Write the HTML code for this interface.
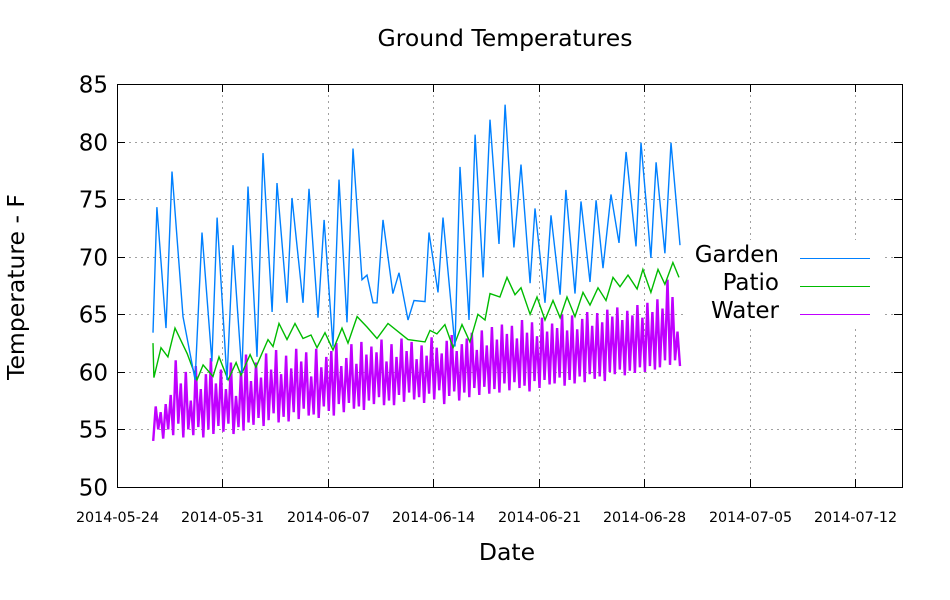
<!DOCTYPE html>
<html><head><meta charset="utf-8"><style>
html,body{margin:0;padding:0;background:#fff;}
svg{display:block;font-family:"DejaVu Sans","Liberation Sans",sans-serif;}
</style></head><body>
<svg id="chart" width="950" height="600" viewBox="0 0 950 600">
<rect width="950" height="600" fill="#fff"/>
<text x="505" y="46" text-anchor="middle" font-size="23.5">Ground Temperatures</text>
<text x="507" y="560" text-anchor="middle" font-size="23.5">Date</text>
<text transform="translate(24,287) rotate(-90)" text-anchor="middle" font-size="23.5">Temperature - F</text>
<g id="grid"></g><g id="ticks"></g><g id="series"></g>
<rect x="117.5" y="84.5" width="785" height="403" fill="none" stroke="#000" stroke-width="1"/>
<g>
<rect x="684" y="240" width="200" height="88" fill="#fff"/>
<text x="779" y="262" text-anchor="end" font-size="23">Garden</text>
<line x1="800" y1="258.5" x2="870" y2="258.5" stroke="#0080ff"/>
<text x="779" y="290" text-anchor="end" font-size="23">Patio</text>
<line x1="800" y1="286.5" x2="870" y2="286.5" stroke="#00bb00"/>
<text x="779" y="318" text-anchor="end" font-size="23">Water</text>
<line x1="800" y1="314.5" x2="870" y2="314.5" stroke="#c000ff"/>
</g>
</svg>
<script>
// days since 2014-05-24
const yTicks=[50,55,60,65,70,75,80,85];
const xTickDays=[0,7,14,21,28,35,42,49];
const xTickLabels=["2014-05-24","2014-05-31","2014-06-07","2014-06-14","2014-06-21","2014-06-28","2014-07-05","2014-07-12"];
const gardenDays=[2.39,2.65,3.25,3.65,4.38,5.18,5.64,6.30,6.64,7.30,7.70,8.29,8.69,9.29,9.69,10.29,10.62,11.28,11.61,12.34,12.74,13.34,13.74,14.33,14.73,15.26,15.66,16.26,16.59,16.99,17.25,17.65,18.31,18.71,19.31,19.71,20.44,20.70,21.30,21.63,22.43,22.76,23.36,23.76,24.29,24.75,25.35,25.75,26.34,26.81,27.41,27.74,28.40,28.80,29.40,29.79,30.39,30.79,31.39,31.79,32.25,32.78,33.31,33.78,34.44,34.77,35.43,35.77,36.36,36.76,37.36];
const gardenTemps=[63.4,74.3,63.8,77.4,64.8,59.3,72.1,60.9,73.4,59.3,71.0,59.9,76.1,61.3,79.0,65.2,76.4,66.0,75.1,66.0,75.9,64.7,73.2,62.2,76.7,64.3,79.4,68.0,68.4,66.0,66.0,73.2,66.8,68.6,64.5,66.2,66.1,72.1,66.9,73.4,62.2,77.8,64.5,80.6,68.2,81.9,71.1,83.2,70.8,78.0,67.7,74.2,66.0,73.6,66.7,75.8,66.8,74.8,67.8,74.9,69.0,75.4,71.2,79.1,70.9,79.9,69.9,78.2,70.3,79.9,71.0];
const patioDays=[2.39,2.45,2.92,3.38,3.85,4.65,5.31,5.71,6.37,6.77,7.37,7.90,8.23,8.83,9.22,10.02,10.35,10.75,11.28,11.81,12.34,12.87,13.27,13.80,14.33,14.93,15.33,15.93,16.59,17.25,17.98,19.31,20.44,20.77,21.23,21.76,22.30,22.89,23.42,23.95,24.42,24.75,25.41,25.88,26.41,26.81,27.41,27.87,28.40,28.93,29.40,29.86,30.39,30.92,31.39,31.92,32.45,32.91,33.38,33.91,34.51,34.90,35.43,35.90,36.36,36.89,37.29];
const patioTemps=[62.5,59.5,62.1,61.3,63.8,61.6,59.3,60.6,59.6,61.3,59.3,60.8,59.7,61.5,60.4,62.8,62.2,64.2,62.8,64.2,62.9,63.2,62.1,63.4,61.9,63.8,62.5,64.8,63.9,62.9,64.2,62.8,62.6,63.6,63.3,64.1,62.1,64.1,62.6,65.0,64.5,66.8,66.5,68.2,66.7,67.3,65.0,66.5,64.5,66.2,64.7,66.5,64.8,66.9,65.8,67.3,66.2,68.2,67.4,68.4,67.2,68.9,66.9,68.9,67.6,69.5,68.2];
const waterStartDay=2.4, waterEndDay=37.36;
const waterTemps=[54,57,55,56.5,54.2,57.2,55,58,54.5,61,55.5,59,54.3,60,55,57.5,
54.5,60.5,55.2,58.5,54.3,59.8, 55,61.2,54.6,59,55.3,60.2, 54.8,58.5,55.5,60.8,54.6,57.9,
55.2,60.1,54.9,61.5,55.6,59.2, 55.4,60.8,56,59.5,55.3,61.6, 55.8,60.2,56.4,61.9,55.6,59.8,
56.1,61.4,55.7,60.3,56.5,62, 55.9,60.9,56.8,61.7,56.2,59.6, 56.3,62,56,60.4,57,61.3,
56.6,61.8,56.2,62.5,57.2,60.5, 56.5,61.2,57.3,62.4,56.8,60.7, 57,62.6,56.7,61.5,57.5,62.2,
57.2,61.7,57.8,62.8,57.1,60.9, 57.5,62.4,57.1,61.3,58,62.9, 57.4,61.8,58.2,62.6,57.6,61.1,
57.8,62.3,57.3,61.4,58.1,63, 57.6,62.1,58.4,61.6,57.2,62.7, 57.9,63.2,58.3,61.8,57.5,62.4,
58.2,62.9,57.8,63.4,58.6,61.9, 58,63.6,58.7,62.3,58.1,63.9, 58.5,62.8,58.2,64.1,59,63.3,
58.4,64,59.1,62.9,58.6,64.5, 58.8,63.4,58.3,64.3,59.2,63.1, 58.6,64.7,59.3,63.5,58.9,64.2,
59,63.8,59.5,65,58.8,63.6, 59.3,64.9,59,63.7,59.6,64.6, 59.1,65.2,59.8,64,59.4,65.1,
59.6,64.3,59.2,65.4,60,64.8, 59.8,65.6,60.2,64.5,59.7,65.3, 60.1,64.9,59.9,65.8,60.4,64.7,
60,66,60.5,65.2,60.2,66.3, 60.4,65.5,61,68,60.6,66.5, 61,63.5,60.5];

const NS="http://www.w3.org/2000/svg";
const X0=117,X1=902,Y0=487,Y1=84,D0=0,D1=52.09;
const xs=d=>X0+(d-D0)/(D1-D0)*(X1-X0);
const ys=v=>Y0-(v-50)/(85-50)*(Y0-Y1);
function mk(tag,attrs,parent){const e=document.createElementNS(NS,tag);for(const k in attrs)e.setAttribute(k,attrs[k]);parent.appendChild(e);return e;}
const grid=document.getElementById('grid'),ticks=document.getElementById('ticks'),series=document.getElementById('series');
yTicks.forEach(v=>{const y=Math.round(ys(v))+0.5;
 if(v>50&&v<85){const g=mk('line',{x1:X0,x2:X1,y1:y,y2:y,stroke:'#a0a0a0','stroke-dasharray':'2,4'},grid);
 
 }
 mk('line',{x1:X0,x2:X0+8,y1:y,y2:y,stroke:'#000'},ticks);
 mk('line',{x1:X1,x2:X1-8,y1:y,y2:y,stroke:'#000'},ticks);
 const t=mk('text',{x:108,y:y+8,'text-anchor':'end','font-size':'23'},ticks);t.textContent=v;
 
 
});
xTickDays.forEach((d,i)=>{const x=Math.round(xs(d))+0.5;
 if(i>0){const g=mk('line',{x1:x,x2:x,y1:Y0,y2:Y1,stroke:'#a0a0a0','stroke-dasharray':'2,4'},grid);
 
 }
 mk('line',{x1:x,x2:x,y1:Y0,y2:Y0-8,stroke:'#000'},ticks);
 mk('line',{x1:x,x2:x,y1:Y1,y2:Y1+8,stroke:'#000'},ticks);
 const t=mk('text',{x:x,y:522,'text-anchor':'middle','font-size':'14.3'},ticks);t.textContent=xTickLabels[i];
 
 
});
function line(days,vals,color,name,w){
 const pts=days.map((d,i)=>xs(d).toFixed(1)+','+ys(vals[i]).toFixed(1)).join(' ');
 const p=mk('polyline',{points:pts,fill:'none',stroke:color,'stroke-width':w,'stroke-linejoin':'miter'},series);
 
 
}
const waterDays=waterTemps.map((_,i)=>waterStartDay+i*(waterEndDay-waterStartDay)/(waterTemps.length-1));
line(waterDays,waterTemps,'#c000ff','water-series',2.4);
line(patioDays,patioTemps,'#00bb00','patio-series',1.4);
line(gardenDays,gardenTemps,'#0080ff','garden-series',1.4);
</script>
</body></html>
